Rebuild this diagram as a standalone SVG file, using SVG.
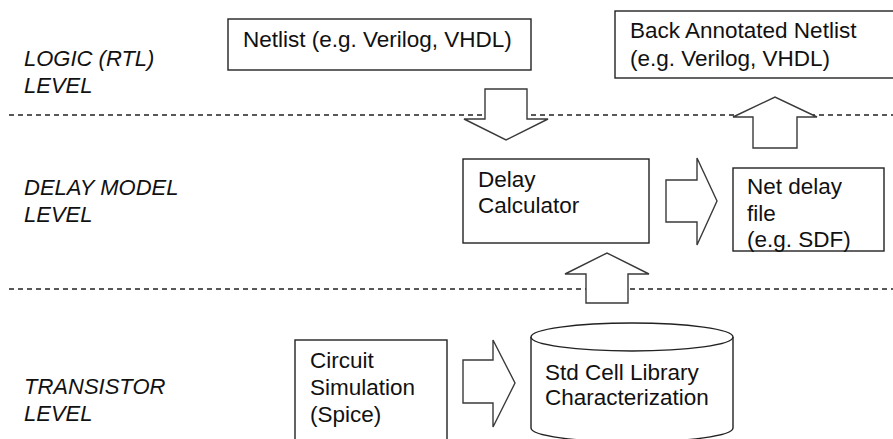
<svg xmlns="http://www.w3.org/2000/svg" width="893" height="439" viewBox="0 0 893 439">
  <style>
    .lbl { font-family: "Liberation Sans", Arial, sans-serif; font-size: 22px; font-style: italic; fill: #111; }
    .txt { font-family: "Liberation Sans", Arial, sans-serif; font-size: 22.5px; fill: #111; }
    .box { fill: #fff; stroke: #222; stroke-width: 1.4; }
    .arrow { fill: #fff; stroke: #3a3a3a; stroke-width: 1.4; stroke-linejoin: miter; }
    .sep { stroke: #222; stroke-width: 1.4; stroke-dasharray: 5 4; fill: none; }
  </style>
  <rect width="893" height="439" fill="#fff"/>

  <!-- level labels -->
  <g id="levels">
    <text class="lbl" x="24" y="66">LOGIC (RTL)</text>
    <text class="lbl" x="24" y="93">LEVEL</text>
    <text class="lbl" x="24" y="195">DELAY MODEL</text>
    <text class="lbl" x="24" y="222">LEVEL</text>
    <text class="lbl" x="24" y="394">TRANSISTOR</text>
    <text class="lbl" x="24" y="421">LEVEL</text>
  </g>

  <!-- level separators -->
  <g id="separators">
    <line class="sep" x1="9" y1="115" x2="893" y2="115"/>
    <line class="sep" x1="9" y1="289" x2="893" y2="289"/>
  </g>

  <!-- nodes -->
  <g id="netlist">
    <rect class="box" x="228" y="19" width="303" height="51"/>
    <text class="txt" x="243" y="47">Netlist (e.g. Verilog, VHDL)</text>
  </g>

  <g id="back-annotated">
    <rect class="box" x="615" y="11" width="290" height="67"/>
    <text class="txt" x="630" y="38">Back Annotated Netlist</text>
    <text class="txt" x="630" y="66">(e.g. Verilog, VHDL)</text>
  </g>

  <g id="delay-calculator">
    <rect class="box" x="463" y="159" width="186" height="84"/>
    <text class="txt" x="478" y="187">Delay</text>
    <text class="txt" x="478" y="213">Calculator</text>
  </g>

  <g id="net-delay-file">
    <rect class="box" x="733" y="168" width="151" height="83"/>
    <text class="txt" x="747" y="194">Net delay</text>
    <text class="txt" x="747" y="221">file</text>
    <text class="txt" x="747" y="247">(e.g. SDF)</text>
  </g>

  <g id="circuit-simulation">
    <rect class="box" x="295" y="340" width="152" height="110"/>
    <text class="txt" x="310" y="368">Circuit</text>
    <text class="txt" x="310" y="395">Simulation</text>
    <text class="txt" x="310" y="422">(Spice)</text>
  </g>

  <g id="std-cell-library">
    <path class="box" d="M531,337 L531,428 A101,14 0 0 0 733,428 L733,337"/>
    <ellipse class="box" cx="632" cy="337" rx="101" ry="14"/>
    <text class="txt" x="545" y="380">Std Cell Library</text>
    <text class="txt" x="545" y="405">Characterization</text>
  </g>

  <!-- block arrows between nodes -->
  <g id="connectors">
    <!-- netlist down to delay calculator -->
    <polygon class="arrow" points="485,89 527,89 527,119 548,119 506,140 464,119 485,119"/>
    <!-- net delay file up to back annotated netlist -->
    <polygon class="arrow" points="753,148 797,148 797,117 817,117 775,97 733,117 753,117"/>
    <!-- delay calculator right to net delay file -->
    <polygon class="arrow" points="666,180 697,180 697,158 717,201 697,245 697,222 666,222"/>
    <!-- library up to delay calculator -->
    <polygon class="arrow" points="586,303 628,303 628,274 649,274 607,253 565,274 586,274"/>
    <!-- circuit simulation right to library -->
    <polygon class="arrow" points="463,360 493,360 493,340 515,383 493,427 493,403 463,403"/>
  </g>
</svg>
